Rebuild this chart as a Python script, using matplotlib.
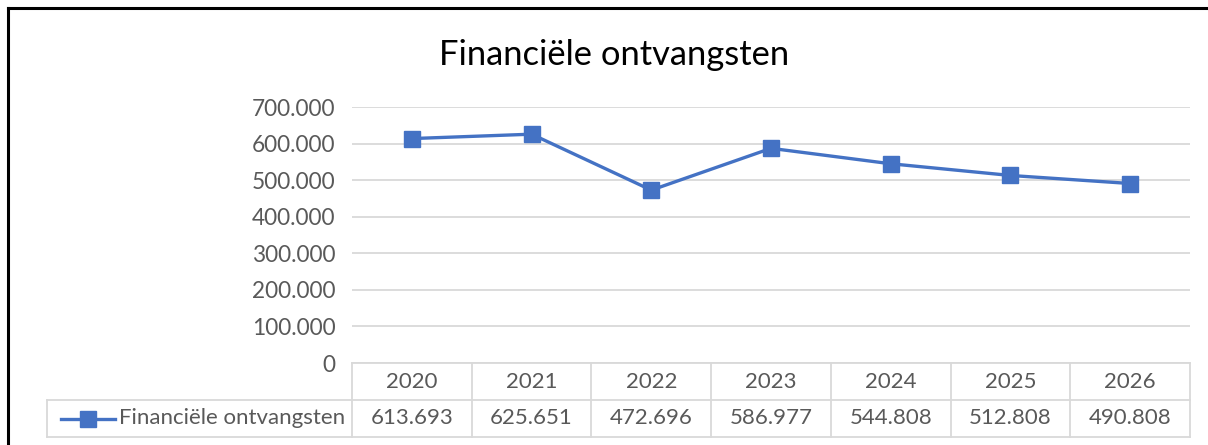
import matplotlib.pyplot as plt
import matplotlib.ticker as mticker
from matplotlib.lines import Line2D

plt.rcParams['font.family'] = ['Lato', 'DejaVu Sans']

title = 'Financiële ontvangsten'
years = ['2020', '2021', '2022', '2023', '2024', '2025', '2026']
ontvangsten = [613693, 625651, 472696, 586977, 544808, 512808, 490808]

blue = '#4472C4'
grid = '#D9D9D9'
txt = '#595959'
fs = 16


def nl(v):
    # thousands separator as a dot
    return f'{v:,.0f}'.replace(',', '.')


fig = plt.figure(figsize=(12.08, 4.45), dpi=100)
W, H = 1208, 445

# frame round the chart (only top and left edge fall inside the image)
fig.add_artist(Line2D([8 / W, 8 / W], [0, 1 - 8 / H], color='black', lw=2.2,
                      transform=fig.transFigure))
fig.add_artist(Line2D([8 / W, 1], [1 - 8 / H, 1 - 8 / H], color='black', lw=2.2,
                      transform=fig.transFigure))

x0, x1, ytop, ybot = 352, 1190, 107, 363
ax = fig.add_axes([x0 / W, 1 - ybot / H, (x1 - x0) / W, (ybot - ytop) / H])

xs = range(len(years))
ax.plot(xs, ontvangsten, color=blue, lw=2.4, marker='s', ms=11.5,
        markeredgecolor=blue, zorder=3, clip_on=False)

ax.set_xlim(-0.5, len(years) - 0.5)
ax.set_ylim(0, 700000)
ax.yaxis.set_major_locator(mticker.MultipleLocator(100000))
ax.yaxis.set_major_formatter(mticker.FuncFormatter(lambda v, p: nl(v)))
ax.tick_params(axis='y', length=0, pad=12, labelsize=16.3, labelcolor=txt)
ax.set_xticks([])
ax.grid(axis='y', color=grid, lw=1.3)
ax.set_axisbelow(True)
for s in ['top', 'right', 'left']:
    ax.spines[s].set_visible(False)
ax.spines['bottom'].set_color(grid)
ax.spines['bottom'].set_linewidth(1.3)

fig.text(614 / W, 1 - 55 / H, title, ha='center', va='center', fontsize=24.8,
         color='black')

# data table under the axis
n = len(years)
row_h = 37 / (ybot - ytop)
left = (47 - x0) / (x1 - x0)
tr = ax.transAxes
lk = dict(color=grid, lw=1.3, transform=tr, clip_on=False)
for i in range(n + 1):
    xa = i / n
    ax.add_line(Line2D([xa, xa], [0, -2 * row_h], **lk))
ax.add_line(Line2D([left, 1], [-row_h, -row_h], **lk))
ax.add_line(Line2D([left, 1], [-2 * row_h, -2 * row_h], **lk))
ax.add_line(Line2D([left, left], [-row_h, -2 * row_h], **lk))

for i, (yr, v) in enumerate(zip(years, ontvangsten)):
    xc = (i + 0.5) / n
    ax.text(xc, -0.5 * row_h, yr, transform=tr, ha='center', va='center',
            fontsize=fs, color=txt)
    ax.text(xc, -1.5 * row_h, nl(v), transform=tr, ha='center', va='center',
            fontsize=fs, color=txt)

# legend key inside the table
ka = (61 - x0) / (x1 - x0)
kb = (115 - x0) / (x1 - x0)
ky = -1.5 * row_h
ax.add_line(Line2D([ka, kb], [ky, ky], color=blue, lw=2.4, transform=tr,
                   clip_on=False))
ax.add_line(Line2D([(ka + kb) / 2], [ky], color=blue, marker='s', ms=11,
                   transform=tr, clip_on=False))
ax.text((119 - x0) / (x1 - x0), ky, title, transform=tr, ha='left',
        va='center', fontsize=fs, color=txt)

fig.savefig('out.png', dpi=100, facecolor='white')
